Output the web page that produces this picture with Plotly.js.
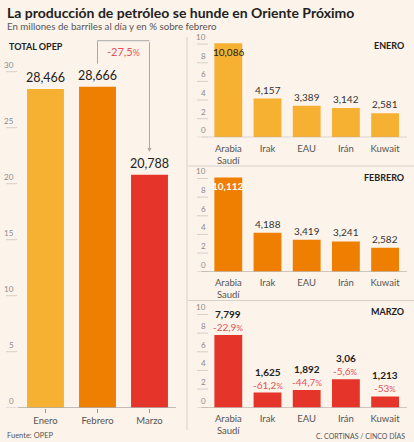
<!DOCTYPE html>
<html><head><meta charset="utf-8">
<script src="https://cdn.plot.ly/plotly-3.0.1.min.js"></script>
<style>html,body{margin:0;padding:0;background:#fcf3ea;}#chart{width:414px;height:442px;}</style>
</head><body><div id="chart"></div>
<script>
// ---- Data ----
const MONTHS = ['Enero', 'Febrero', 'Marzo'];
const TOTAL = [28.466, 28.666, 20.788];
const TOTAL_PCT = '-27,5';
const COUNTRIES = ['Arabia Saudí', 'Irak', 'EAU', 'Irán', 'Kuwait'];
const COUNTRY_LABELS = ['Arabia<br>Saudí', 'Irak', 'EAU', 'Irán', 'Kuwait'];
const ENERO = [10.086, 4.157, 3.389, 3.142, 2.581];
const FEBRERO = [10.112, 4.188, 3.419, 3.241, 2.582];
const MARZO = [7.799, 1.625, 1.892, 3.06, 1.213];
const MARZO_PCT = ['-22,9', '-61,2', '-44,7', '-5,6', '-53'];
const LEFT_TICKS = [0, 5, 10, 15, 20, 25, 30];
const RIGHT_TICKS = [0, 2, 4, 6, 8, 10];

// ---- Layout helpers ----
const W = 414, H = 442;
const px = x => x / W;
const py = y => 1 - y / H;
const FONT = 'Lato, "Open Sans", sans-serif';
const C = {enero: '#f6b133', febrero: '#ee7f00', marzo: '#e5352b', red: '#e2545a', dark: '#222', gray: '#555', tick: '#8a8a8a', line: '#d6d0ca'};
const fmt = v => String(v).replace('.', ',');
const pct = s => s + '<span style="font-size:0.8em">%</span>';

const traces = [];
const annotations = [];
const shapes = [];

// Left panel scale: 11.2 px per unit, zero at 407.7px
const LEFT_MAX = 34;
traces.push({type: 'bar', x: MONTHS, y: TOTAL, xaxis: 'x', yaxis: 'y',
  marker: {color: [C.enero, C.febrero, C.marzo]}, hoverinfo: 'skip'});
TOTAL.forEach((v, i) => annotations.push({xref: 'x', yref: 'y', x: MONTHS[i], y: v, yshift: 11,
  text: fmt(v), showarrow: false, yanchor: 'middle', font: {size: 12.5, color: C.dark}}));
LEFT_TICKS.forEach(t => {
  annotations.push({xref: 'paper', yref: 'y', x: px(15.5), y: t, yshift: 7, xanchor: 'right', yanchor: 'middle',
    text: String(t), showarrow: false, font: {size: 8, color: C.tick}});
  shapes.push({type: 'line', xref: 'paper', yref: 'y', x0: px(6), x1: px(17), y0: t, y1: t, line: {color: C.line, width: 1}});
});
shapes.push({type: 'line', xref: 'paper', yref: 'y', x0: px(18), x1: px(176), y0: 0, y1: 0, line: {color: '#9a9a9a', width: 1}});
// change box + arrow
const boxTop = Math.max(...TOTAL) + 4.1;
shapes.push({type: 'line', xref: 'x', yref: 'y', x0: 1, x1: 1, y0: TOTAL[1] + 2.05, y1: boxTop, line: {color: '#a8a8a8', width: 1}});
shapes.push({type: 'line', xref: 'x', yref: 'y', x0: 1, x1: 2, y0: boxTop, y1: boxTop, line: {color: '#a8a8a8', width: 1}});
annotations.push({xref: 'x', yref: 'y', axref: 'x', ayref: 'y', x: 2, y: TOTAL[2] + 2.05, ax: 2, ay: boxTop,
  text: '', showarrow: true, arrowhead: 2, arrowsize: 0.8, arrowwidth: 1, arrowcolor: '#a8a8a8'});
annotations.push({xref: 'x', yref: 'y', x: 1.5, y: boxTop - 1, text: pct(TOTAL_PCT), showarrow: false,
  yanchor: 'middle', font: {size: 11, color: C.red}});
annotations.push({xref: 'paper', yref: 'paper', x: px(7), y: py(47), xanchor: 'left', yanchor: 'middle',
  text: '<b>TOTAL OPEP</b>', showarrow: false, font: {size: 9, color: C.dark}});

// Right panels: 9.32 px per unit
const RIGHT_MAX = 11;
const panels = [
  {name: 'ENERO', data: ENERO, color: C.enero, ax: '2', zero: 137.3, titleY: 45.7, insideColor: C.dark, insideBold: false},
  {name: 'FEBRERO', data: FEBRERO, color: C.febrero, ax: '3', zero: 271.7, titleY: 177.3, insideColor: '#ffffff', insideBold: true},
  {name: 'MARZO', data: MARZO, color: C.marzo, ax: '4', zero: 407.7, titleY: 311.7, pct: MARZO_PCT}
];

const layout = {
  width: W, height: H, margin: {l: 0, r: 0, t: 0, b: 0},
  paper_bgcolor: '#fcf3ea', plot_bgcolor: 'rgba(0,0,0,0)',
  font: {family: FONT, color: C.gray},
  showlegend: false, bargap: 0.29,
  xaxis: {domain: [px(19.5), px(175.5)], anchor: 'y', type: 'category', range: [-0.5, 2.5],
    ticks: 'outside', ticklen: 4, tickcolor: '#9a9a9a', showgrid: false, zeroline: false, showline: false,
    tickfont: {size: 9.5, color: C.gray}, fixedrange: true},
  yaxis: {domain: [py(407.7), py(407.7 - LEFT_MAX * 11.2)], anchor: 'x', range: [0, LEFT_MAX], showticklabels: false,
    showgrid: false, zeroline: false, showline: false, fixedrange: true},
  annotations, shapes
};

panels.forEach(p => {
  const xa = 'x' + p.ax, ya = 'y' + p.ax;
  traces.push({type: 'bar', x: COUNTRIES, y: p.data, xaxis: xa, yaxis: ya,
    marker: {color: p.color}, hoverinfo: 'skip'});
  layout['xaxis' + p.ax] = {domain: [px(208.7), px(404.7)], anchor: ya, type: 'category', range: [-0.5, 4.5],
    tickvals: COUNTRIES, ticktext: COUNTRY_LABELS, ticks: 'outside', ticklen: 2, tickcolor: 'rgba(0,0,0,0)',
    showgrid: false, zeroline: false, showline: false, tickfont: {size: 9.5, color: C.gray}, fixedrange: true};
  layout['yaxis' + p.ax] = {domain: [py(p.zero), py(p.zero - RIGHT_MAX * 9.32)], anchor: xa, range: [0, RIGHT_MAX], showticklabels: false,
    showgrid: false, zeroline: false, showline: false, fixedrange: true};
  RIGHT_TICKS.forEach(t => {
    annotations.push({xref: 'paper', yref: ya, x: px(207.5), y: t, yshift: 7, xanchor: 'right', yanchor: 'middle',
      text: String(t), showarrow: false, font: {size: 8, color: C.tick}});
    shapes.push({type: 'line', xref: 'paper', yref: ya, x0: px(197), x1: px(208), y0: t, y1: t, line: {color: C.line, width: 1}});
  });
  shapes.push({type: 'line', xref: 'paper', yref: ya, x0: px(201.5), x1: px(407), y0: 0, y1: 0, line: {color: '#b0aaa4', width: 1}});
  annotations.push({xref: 'paper', yref: 'paper', x: px(406), y: py(p.titleY), xanchor: 'right', yanchor: 'middle',
    text: '<b>' + p.name + '</b>', showarrow: false, font: {size: 9, color: C.dark}});
  p.data.forEach((v, i) => {
    if (p.pct) {
      annotations.push({xref: xa, yref: ya, x: COUNTRIES[i], y: v, yshift: 21, yanchor: 'middle',
        text: '<b>' + fmt(v) + '</b>', showarrow: false, font: {size: 10, color: C.dark}});
      annotations.push({xref: xa, yref: ya, x: COUNTRIES[i], y: v, yshift: 8, yanchor: 'middle',
        text: pct(p.pct[i]), showarrow: false, font: {size: 10, color: C.red}});
    } else if (v > 9.5) {
      annotations.push({xref: xa, yref: ya, x: COUNTRIES[i], y: v, yshift: -9, yanchor: 'middle',
        text: p.insideBold ? '<b>' + fmt(v) + '</b>' : fmt(v), showarrow: false, font: {size: 10, color: p.insideColor}});
    } else {
      annotations.push({xref: xa, yref: ya, x: COUNTRIES[i], y: v, yshift: 9, yanchor: 'middle',
        text: fmt(v), showarrow: false, font: {size: 10, color: '#333'}});
    }
  });
});

// Dividers
shapes.push({type: 'line', xref: 'paper', yref: 'paper', x0: px(187), x1: px(187), y0: py(37), y1: py(430), line: {color: C.line, width: 1}});
shapes.push({type: 'line', xref: 'paper', yref: 'paper', x0: px(188), x1: 1, y0: py(166), y1: py(166), line: {color: C.line, width: 1}});
shapes.push({type: 'line', xref: 'paper', yref: 'paper', x0: px(188), x1: 1, y0: py(300.5), y1: py(300.5), line: {color: C.line, width: 1}});

// Titles and footer
annotations.push({xref: 'paper', yref: 'paper', x: px(5), y: py(12), xanchor: 'left', yanchor: 'middle',
  text: '<b>La producción de petróleo se hunde en Oriente Próximo</b>', showarrow: false, font: {size: 14, color: C.dark}});
annotations.push({xref: 'paper', yref: 'paper', x: px(5), y: py(26), xanchor: 'left', yanchor: 'middle',
  text: 'En millones de barriles al día y en % sobre febrero', showarrow: false, font: {size: 9.7, color: C.gray}});
annotations.push({xref: 'paper', yref: 'paper', x: px(5), y: py(435.5), xanchor: 'left', yanchor: 'middle',
  text: 'Fuente: OPEP', showarrow: false, font: {size: 7.5, color: C.gray}});
annotations.push({xref: 'paper', yref: 'paper', x: px(407), y: py(435.5), xanchor: 'right', yanchor: 'middle',
  text: 'C. CORTINAS / CINCO DÍAS', showarrow: false, font: {size: 7, color: C.gray}});

Plotly.newPlot('chart', traces, layout, {displayModeBar: false, staticPlot: true});
</script>
</body></html>
